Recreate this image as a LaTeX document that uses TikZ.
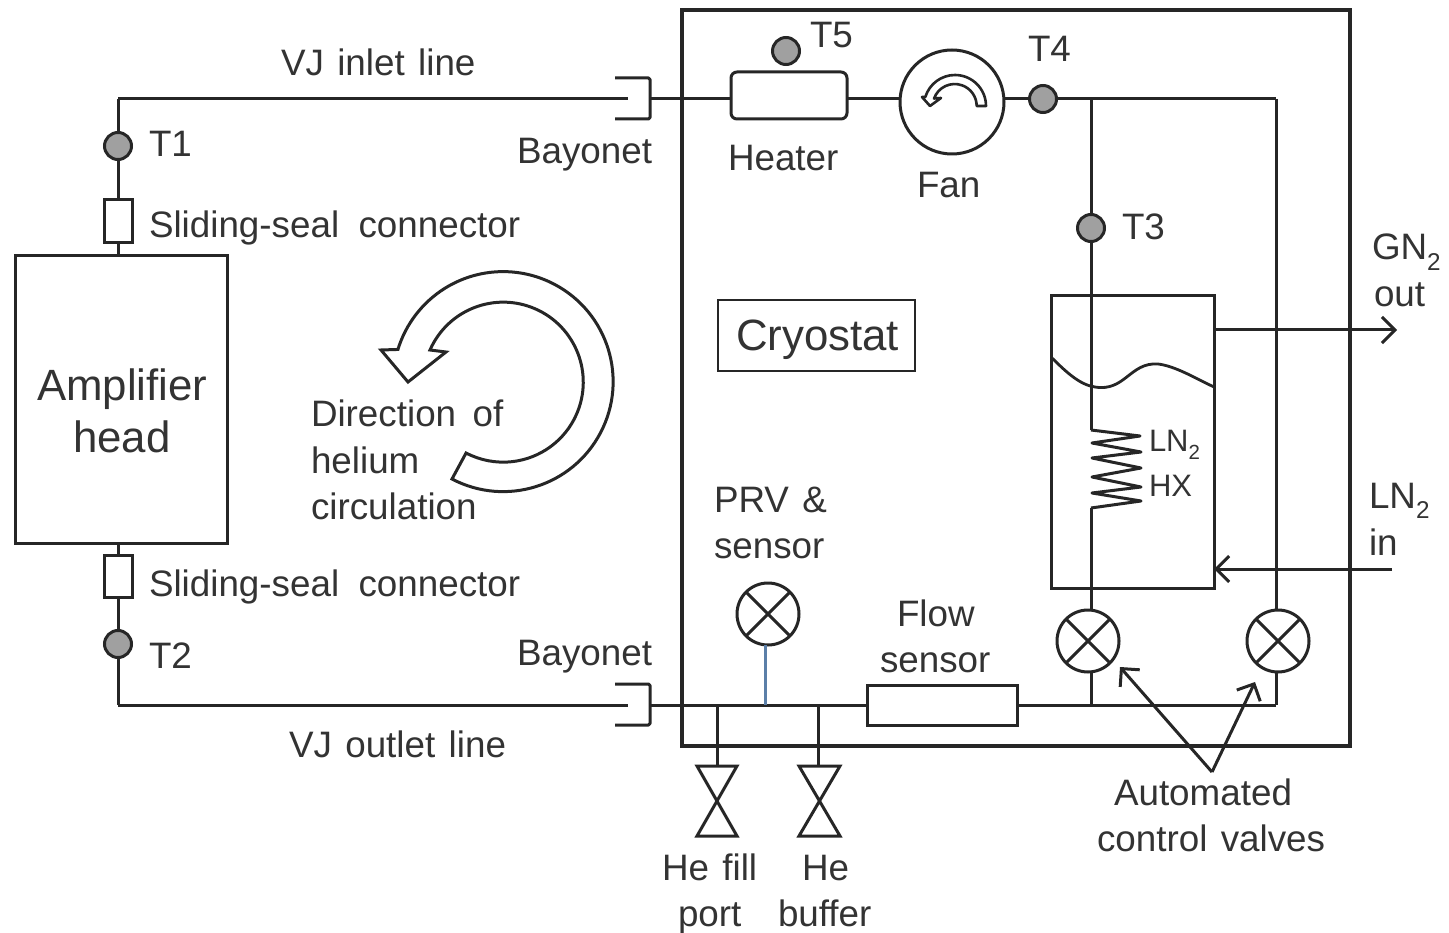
\documentclass[tikz,border=0pt]{standalone}
\usepackage{fontspec}
\setmainfont[WordSpace=1.31]{Liberation Sans}
\usetikzlibrary{arrows.meta}
\definecolor{ink}{HTML}{262626}
\definecolor{txtc}{HTML}{333333}
\definecolor{sens}{HTML}{A0A0A0}
\definecolor{blueline}{HTML}{5B7FA8}
\newcommand{\lowtwo}{\raisebox{-0.28em}{\scalebox{0.66}{2}}}
\tikzset{
  txt/.style={anchor=base west,inner sep=0pt,outer sep=0pt,text=txtc,font=\fontsize{36.8}{47}\selectfont},
  bigtxt/.style={txt,font=\fontsize{43.8}{50}\selectfont},
  smalltxt/.style={txt,font=\fontsize{31}{40}\selectfont},
  ln/.style={draw=ink,line width=3pt},
  sensor/.style={circle,draw=ink,line width=3pt,fill=sens,minimum size=27pt,inner sep=0pt,outer sep=0pt},
  boxn/.style={rectangle,draw=ink,line width=3pt,fill=white,inner sep=0pt,outer sep=0pt},
  valve/.style={circle,draw=ink,line width=3pt,fill=white,minimum size=62pt,inner sep=0pt,outer sep=0pt,
    path picture={\draw[ink,line width=3pt] (path picture bounding box.north west)--(path picture bounding box.south east)
      (path picture bounding box.north east)--(path picture bounding box.south west);}},
  openarrow/.style={ln,-{Straight Barb[length=13pt,width=26pt,line width=3pt]}},
}
\begin{document}
\begin{tikzpicture}[x=1pt,y=-1pt]
\useasboundingbox (0,0) rectangle (1449,933);

% junction coordinates
\coordinate (tl) at (118,99);
\coordinate (bl) at (118,705);
\coordinate (bayTin) at (628,99);
\coordinate (bayBin) at (628,705);
\coordinate (bayT) at (650,99);
\coordinate (bayB) at (650,705);
\coordinate (jT) at (1091,99);
\coordinate (tr) at (1276,99);
\coordinate (br) at (1276,705);
\coordinate (jV) at (1091,705);
\coordinate (jF) at (717,705);
\coordinate (jB) at (818,705);
\coordinate (jP) at (765,705);
\coordinate (prvb) at (765,645);
\coordinate (gnend) at (1397,330);
\coordinate (gnst) at (1214,330);
\coordinate (lnst) at (1392,569);
\coordinate (lnend) at (1214,569);
\coordinate (acv) at (1212,772);
\coordinate (acv1) at (1120,667);
\coordinate (acv2) at (1255,682);
\coordinate (coilT) at (1091,430);
\coordinate (coilB) at (1091,508);

% Cryostat boundary
\node[rectangle,draw=ink,line width=4.5pt,minimum width=668pt,minimum height=736pt,inner sep=0pt,outer sep=0pt,anchor=north west] (cryo) at (682,10) {};

% nodes
\node[boxn,minimum width=212pt,minimum height=287pt,anchor=north west] (amp) at (15,256) {};
\node[boxn,minimum width=28pt,minimum height=43pt,anchor=north west] (ss1) at (104,200) {};
\node[boxn,minimum width=28pt,minimum height=42pt,anchor=north west] (ss2) at (104,555) {};
\node[boxn,rounded corners=6pt,minimum width=116pt,minimum height=47pt,anchor=north west] (heater) at (731,72) {};
\node[boxn,minimum width=150pt,minimum height=40pt,anchor=north west] (flow) at (867,685) {};
\node[boxn,minimum width=163pt,minimum height=292pt,anchor=north west,fill=none] (ves) at (1051,296) {};
\node[boxn,line width=1.6pt,minimum width=197pt,minimum height=71pt,anchor=north west] (cbox) at (718,300) {};
\node[circle,draw=ink,line width=3pt,fill=white,minimum size=104pt,inner sep=0pt,outer sep=0pt] (fan) at (952,102) {};

\node[sensor] (T1) at (118,146) {};
\node[sensor] (T2) at (118,644) {};
\node[sensor] (T3) at (1091,228) {};
\node[sensor] (T4) at (1043,99) {};
\node[sensor] (T5) at (786,51) {};

\node[valve] (vA) at (1088,641) {};
\node[valve] (vB) at (1278,641) {};
\node[valve] (vP) at (768,614) {};

% connectors
\draw[ln] (tl) -- (bayTin);
\draw[ln] (tl) -- (T1);
\draw[ln] (T1) -- (ss1);
\draw[ln] (ss1) -- (ss1.south |- amp.north);
\draw[ln] (ss2.north |- amp.south) -- (ss2);
\draw[ln] (ss2) -- (T2);
\draw[ln] (T2) -- (bl);
\draw[ln] (bl) -- (bayBin);
\draw[ln] (bayT) -- (heater.west |- bayT);
\draw[ln] (heater.east |- bayT) -- (fan.west |- bayT);
\draw[ln] (fan.east |- bayT) -- (T4);
\draw[ln] (T4) -- (tr);
\draw[ln] (tr) -- (vB.north -| tr);
\draw[ln] (vB.south -| br) -- (br);
\draw[ln] (br) -- (flow.east |- br);
\draw[ln] (bayB) -- (flow.west |- bayB);
\draw[ln] (jT) -- (T3);
\draw[ln] (T3) -- (coilT);
\draw[ln] (coilB) -- (vA.north -| coilB);
\draw[ln] (vA.south -| jV) -- (jV);
\draw[draw=blueline,line width=3pt] (prvb) -- (jP);
% coil
\draw[ln,line join=round] (coilT) -- (1140,436) -- (1092,443) -- (1141,452) -- (1092,458) -- (1141,468) -- (1092,477) -- (1141,487) -- (1092,493) -- (1141,501) -- (coilB);
% liquid level
\draw[ln,line width=2.8pt] (1051,357) .. controls (1066,372) and (1080,385) .. (1095,387) .. controls (1125,392) and (1130,362) .. (1158,364) .. controls (1175,366) and (1195,378) .. (1214,387);
% bayonets
\draw[ln,line join=round,rounded corners=1.5pt] (615,78) -- (650,78) -- (650,119) -- (615,119);
\draw[ln,line join=round,rounded corners=1.5pt] (615,684) -- (650,684) -- (650,725) -- (615,725);
% hand valves
\draw[ln] (jF) -- (717,766);
\draw[ln] (jB) -- (818,766);
\draw[ln,line join=miter] (697,766) -- (737,766) -- (697,836) -- (737,836) -- cycle;
\draw[ln,line join=miter] (799,766) -- (840,766) -- (799,836) -- (840,836) -- cycle;
% process arrows
\draw[openarrow] (gnst) -- (gnend);
\draw[openarrow] (lnst) -- (lnend);
\draw[openarrow] (acv) -- (acv1);
\draw[openarrow] (acv) -- (acv2);
% circulation arrow
\draw[ln,line join=miter] (452,479) arc[start angle=117.7,end angle=-163,radius=110] -- (381,350) -- (408,382) -- (446,352) -- (430,350) arc[start angle=-156.3,end angle=117.7,radius=80] -- cycle;
% fan arrow
\draw[ink,line width=2.6pt,line join=round] (986,106) arc[start angle=0,end angle=-163,radius=31] -- (922,97) -- (930,106) -- (941,98) -- (934,98.5) arc[start angle=-160,end angle=0,radius=22] -- cycle;

% labels
\node[txt] (lVJi) at (281,76) {VJ inlet line};
\node[txt] (lT1) at (149,157) {T1};
\node[txt] (lBay1) at (517,164) {Bayonet};
\node[txt] (lSS1) at (149,238) {Sliding-seal\hspace{6pt} connector};
\node[txt] (lSS2) at (149,596) {Sliding-seal\hspace{6pt} connector};
\node[txt] (lT2) at (149,668) {T2};
\node[txt] (lBay2) at (517,665) {Bayonet};
\node[txt] (lVJo) at (289,757) {VJ outlet line};
\node[txt] (lHeat) at (728,171) {Heater};
\node[txt] (lFan) at (917,198) {Fan};
\node[txt] (lT5) at (810,48) {T5};
\node[txt] (lT4) at (1028,62) {T4};
\node[txt] (lT3) at (1122,240) {T3};
\node[bigtxt] (lCry) at (736,351) {Cryostat};
\node[txt] (lGN) at (1372,260) {GN\lowtwo};
\node[txt] (lOut) at (1374,307) {out};
\node[txt] (lLN) at (1369,508) {LN\lowtwo};
\node[txt] (lIn) at (1369,555) {in};
\node[smalltxt] (lLNx) at (1149,451) {LN\lowtwo};
\node[smalltxt] (lHX) at (1149,496) {HX};
\node[txt] (lPRV) at (714,512) {PRV \&};
\node[txt] (lSen) at (714,558) {sensor};
\node[txt] (lFlow) at (897,626) {Flow};
\node[txt] (lSen2) at (880,672) {sensor};
\node[txt] (lAut) at (1114,805) {Automated};
\node[txt] (lCtl) at (1097,851) {control valves};
\node[txt] (lHe1) at (662,880) {He fill};
\node[txt] (lPort) at (678,926) {port};
\node[txt] (lHe2) at (802,880) {He};
\node[txt] (lBuf) at (778,926) {buffer};
\node[txt] (lDir) at (311,426) {Direction\hspace{3pt} of};
\node[txt] (lHel) at (311,473) {helium};
\node[txt] (lCir) at (311,519) {circulation};
\node[bigtxt] (lAmp) at (37,400) {Amplifier};
\node[bigtxt] (lHead) at (73,452) {head};
\end{tikzpicture}
\end{document}
